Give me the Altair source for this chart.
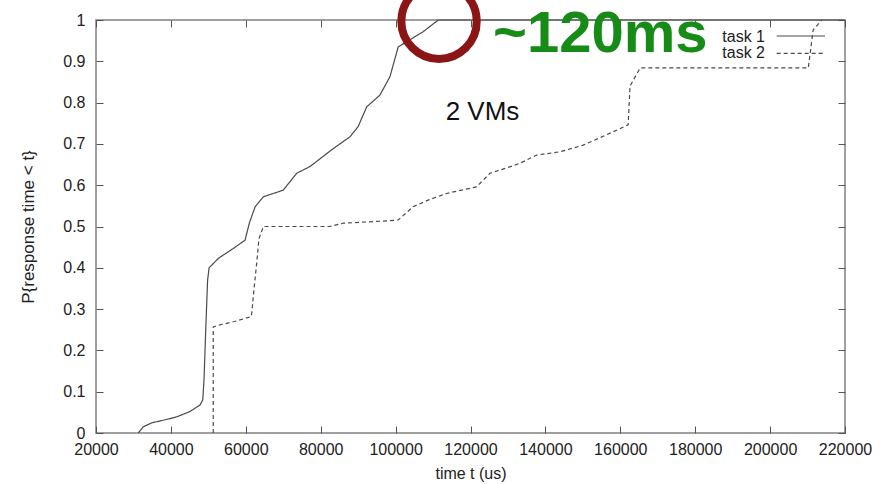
import altair as alt
import pandas as pd

FONT = "Liberation Sans"

# ---- data ----
series_names = ["task 1", "task 2"]

task1_t = [31300, 32600, 35000, 38000, 41500, 45100, 47800, 48500, 48850, 49300, 49800,
           50200, 52700, 56700, 59800, 61000, 62500, 64700, 70000, 73600, 77100, 79400,
           83400, 87800, 90000, 92300, 95800, 98500, 100700, 103800, 107400, 111400, 220000]
task1_p = [0.0, 0.015, 0.025, 0.031, 0.039, 0.052, 0.068, 0.08, 0.13, 0.25, 0.37,
           0.40, 0.423, 0.447, 0.467, 0.51, 0.548, 0.572, 0.588, 0.629, 0.645, 0.661,
           0.689, 0.717, 0.742, 0.79, 0.818, 0.863, 0.935, 0.952, 0.972, 1.0, 1.0]

task2_t = [51300, 51300, 52700, 57000, 61500, 62200, 62900, 63500, 64700, 82500, 86000,
           98500, 100700, 104700, 109000, 113600, 121600, 125200, 129000, 133200, 137700,
           143900, 150100, 156300, 162100, 162600, 165300, 210200, 211500, 213800]
task2_p = [0.0, 0.257, 0.261, 0.27, 0.282, 0.35, 0.41, 0.47, 0.50, 0.50, 0.508,
           0.514, 0.516, 0.548, 0.565, 0.58, 0.596, 0.629, 0.64, 0.653, 0.673,
           0.681, 0.697, 0.722, 0.746, 0.84, 0.884, 0.884, 0.976, 1.0]

x_ticks = [20000, 40000, 60000, 80000, 100000, 120000, 140000, 160000, 180000, 200000, 220000]
y_ticks = [0, 0.1, 0.2, 0.3, 0.4, 0.5, 0.6, 0.7, 0.8, 0.9, 1.0]

annotation_big = ["~120ms"]
annotation_small = ["2 VMs"]

# ---- tables ----
rows = []
for name, ts, ps in ((series_names[0], task1_t, task1_p), (series_names[1], task2_t, task2_p)):
    for i, (t, p) in enumerate(zip(ts, ps)):
        rows.append({"task": name, "t": t, "p": p, "i": i})
curves = pd.DataFrame(rows)

legend_df = pd.DataFrame({
    "task": series_names,
    "tx": [198640, 198640],
    "ty": [0.9475, 0.9073],
    "x1": [201760, 201760],
    "x2": [214660, 214660],
    "ly": [0.9613, 0.9194],
})
circle_df = pd.DataFrame({"t": [111600], "p": [0.997]})
big_df = pd.DataFrame({"t": [126010], "p": [0.9225], "label": annotation_big})
small_df = pd.DataFrame({"t": [113360], "p": [0.7579], "label": annotation_small})

x_scale = alt.Scale(domain=[20000, 220000], nice=False, zero=False)
y_scale = alt.Scale(domain=[0, 1], nice=False, zero=False)
dash_scale = alt.Scale(domain=series_names, range=[[1, 0], [4, 3]])

LINE_COLOR = "#4a4a4a"
TEXT_COLOR = "#222222"
TICK_COLOR = "#555555"

bottom_axis = alt.Axis(
    orient="bottom", values=x_ticks, format="d", offset=-7, tickSize=7,
    tickColor=TICK_COLOR, tickWidth=1, domain=False, grid=False,
    labelFont=FONT, labelFontSize=16, labelColor=TEXT_COLOR, labelPadding=8,
    labelFlush=False, labelOverlap=False, labelBound=False,
    title="time t (us)", titleFont=FONT, titleFontSize=16, titleFontWeight="normal",
    titleColor=TEXT_COLOR, titleBaseline="alphabetic", titleY=52, titleX=374.5,
)
left_axis = alt.Axis(
    orient="left", values=y_ticks, format="~g", offset=-7, tickSize=7,
    tickColor=TICK_COLOR, tickWidth=1, domain=False, grid=False,
    labelFont=FONT, labelFontSize=16, labelColor=TEXT_COLOR, labelPadding=11,
    labelOverlap=False, labelBound=False, labelFlush=False,
    title="P{response time < t}", titleFont=FONT, titleFontSize=17,
    titleFontWeight="normal", titleColor=TEXT_COLOR, titleBaseline="middle",
    titleX=-75, titleY=206.5, titleAngle=270,
)
top_axis = alt.Axis(
    orient="top", values=x_ticks, offset=-7, tickSize=7, tickColor=TICK_COLOR,
    tickWidth=1, domain=False, grid=False, labels=False, title=None,
)
right_axis = alt.Axis(
    orient="right", values=y_ticks, offset=-7, tickSize=7, tickColor=TICK_COLOR,
    tickWidth=1, domain=False, grid=False, labels=False, title=None,
)

lines = alt.Chart(curves).mark_line(color=LINE_COLOR, strokeWidth=1.2).encode(
    x=alt.X("t:Q", scale=x_scale, axis=bottom_axis),
    y=alt.Y("p:Q", scale=y_scale, axis=left_axis),
    strokeDash=alt.StrokeDash("task:N", scale=dash_scale, legend=None),
    detail="task:N",
    order="i:Q",
)

legend_lines = alt.Chart(legend_df).mark_rule(color=LINE_COLOR, strokeWidth=1.2).encode(
    x=alt.X("x1:Q", scale=x_scale, axis=top_axis),
    x2="x2:Q",
    y=alt.Y("ly:Q", scale=y_scale, axis=right_axis),
    strokeDash=alt.StrokeDash("task:N", scale=dash_scale, legend=None),
)

legend_text = alt.Chart(legend_df).mark_text(
    align="right", baseline="alphabetic", font=FONT, fontSize=16, color=TEXT_COLOR
).encode(
    x=alt.X("tx:Q", scale=x_scale, axis=None),
    y=alt.Y("ty:Q", scale=y_scale, axis=None),
    text="task:N",
)

circle = alt.Chart(circle_df).mark_point(
    shape="circle", filled=False, size=5685, strokeWidth=8, color="#8b1414", opacity=1
).encode(
    x=alt.X("t:Q", scale=x_scale, axis=None),
    y=alt.Y("p:Q", scale=y_scale, axis=None),
)

big_text = alt.Chart(big_df).mark_text(
    align="left", baseline="alphabetic", font=FONT, fontSize=58, fontWeight="bold",
    color="#168c16"
).encode(
    x=alt.X("t:Q", scale=x_scale, axis=None),
    y=alt.Y("p:Q", scale=y_scale, axis=None),
    text="label:N",
)

small_text = alt.Chart(small_df).mark_text(
    align="left", baseline="alphabetic", font=FONT, fontSize=26, color="#111111"
).encode(
    x=alt.X("t:Q", scale=x_scale, axis=None),
    y=alt.Y("p:Q", scale=y_scale, axis=None),
    text="label:N",
)

chart = alt.layer(
    lines, legend_lines, legend_text, circle, big_text, small_text
).resolve_axis(
    x="independent", y="independent"
).properties(
    width=749, height=413,
    autosize=alt.AutoSizeParams(type="none"),
    padding={"left": 96, "top": 20, "right": 36, "bottom": 51},
    background="white",
).configure_view(
    stroke="#808080", strokeWidth=1.5
)

chart.save("out.html", embed_options={"renderer": "svg", "actions": False})
